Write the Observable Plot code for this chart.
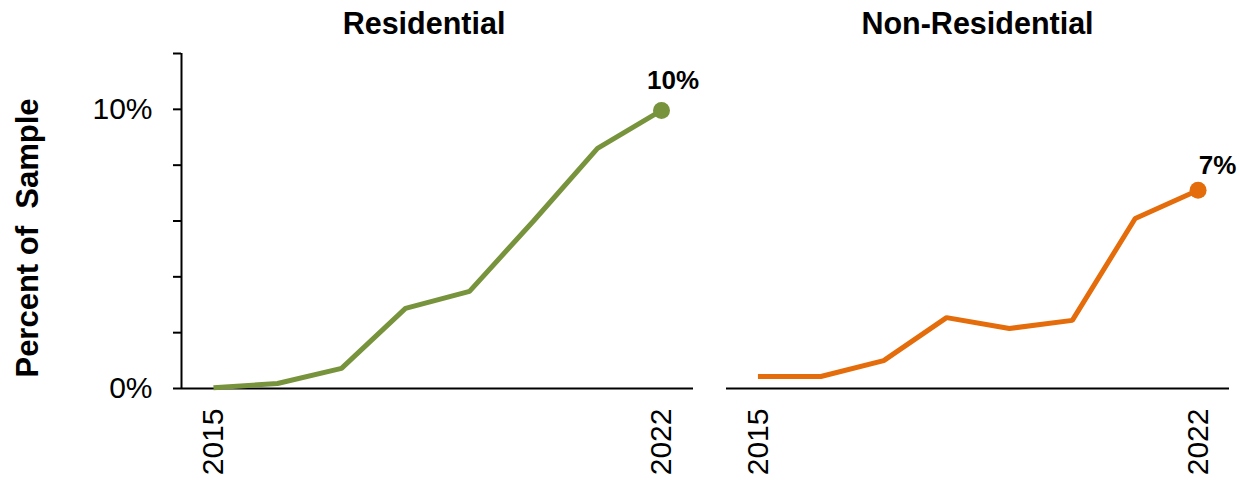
<!DOCTYPE html>
<html>
<head>
<meta charset="utf-8">
<script src="https://cdn.jsdelivr.net/npm/d3@7"></script>
<script src="https://cdn.jsdelivr.net/npm/@observablehq/plot@0.6"></script>
<style>
  html, body { margin: 0; padding: 0; background: #fff; }
  #wrap { position: relative; width: 1240px; height: 480px; overflow: hidden; font-family: "Liberation Sans", Arial, sans-serif; }
  #wrap svg { position: absolute; top: 0; overflow: visible; }
</style>
</head>
<body>
<div id="wrap"></div>
<script>
const years = [2015, 2016, 2017, 2018, 2019, 2020, 2021, 2022];
const residential = [0.03, 0.18, 0.72, 2.87, 3.48, 6.0, 8.6, 9.96];
const nonResidential = [0.43, 0.43, 1.0, 2.54, 2.15, 2.44, 6.09, 7.1];
const panelTitles = ["Residential", "Non-Residential"];
const endLabels = ["10%", "7%"];
const xTickYears = [2015, 2022];
const yTicks = [0, 2, 4, 6, 8, 10, 12];
const yLabeled = [0, 10];
const yLabel = "Percent of  Sample";
const colors = ["#77933C", "#E46C0A"];
const xDomain = [2014.5, 2022.5];
const yDomain = [0, 12];

const font = "Liberation Sans, Arial, sans-serif";
const wrap = document.getElementById("wrap");

function panel({values, color, title, endLabel, width, left, marginLeft, marginRight, withYAxis, titleDx, labelDx, labelDy}) {
  const data = years.map((y, i) => ({year: y, value: values[i]}));
  const last = [data[data.length - 1]];
  const marks = [
    Plot.ruleY([0], {stroke: "#000", strokeWidth: 2}),
    Plot.axisX({
      ticks: xTickYears, tickFormat: d => String(d), tickRotate: -90,
      tickSize: 0, tickPadding: 20, fontSize: 30, fontFamily: font, fill: "#000", label: null
    }),
    Plot.line(data, {x: "year", y: "value", stroke: color, strokeWidth: 5, strokeLinejoin: "miter", strokeLinecap: "butt"}),
    Plot.dot(last, {x: "year", y: "value", r: 8.5, fill: color, stroke: null}),
    Plot.text(last, {x: "year", y: "value", text: () => endLabel, dx: labelDx, dy: labelDy,
      fontSize: 26, fontWeight: "bold", fill: "#000", fontFamily: font, lineAnchor: "middle"}),
    Plot.text([title], {frameAnchor: "top", dx: titleDx, dy: -29.5, lineAnchor: "middle", textAnchor: "middle",
      fontSize: 30.5, fontWeight: "bold", fill: "#000", fontFamily: font})
  ];
  if (withYAxis) {
    marks.unshift(
      Plot.ruleX([xDomain[0]], {y1: yDomain[0], y2: yDomain[1], stroke: "#000", strokeWidth: 2}),
      Plot.axisY({
        ticks: yTicks, tickFormat: d => yLabeled.includes(d) ? d + "%" : "",
        tickSize: 8, tickPadding: 21, fontSize: 30, fontFamily: font, fill: "#000",
        stroke: "#000", strokeWidth: 2, label: null
      }),
      Plot.text([yLabel], {frameAnchor: "left", rotate: -90, dx: -153.6, dy: 17, lineAnchor: "middle", textAnchor: "middle",
        fontSize: 31, fontWeight: "bold", fill: "#000", fontFamily: font})
    );
  }
  const svg = Plot.plot({
    width, height: 480,
    marginLeft, marginRight, marginTop: 53, marginBottom: 92,
    x: {domain: xDomain, axis: null},
    y: {domain: yDomain, axis: null},
    style: {background: "transparent", fontFamily: font, overflow: "visible"},
    marks
  });
  svg.style.left = left + "px";
  wrap.appendChild(svg);
}

panel({values: residential, color: colors[0], title: panelTitles[0], endLabel: endLabels[0],
  width: 700, left: 0, marginLeft: 181, marginRight: 7, withYAxis: true, titleDx: -13.5, labelDx: 11.5, labelDy: -30});
panel({values: nonResidential, color: colors[1], title: panelTitles[1], endLabel: endLabels[1],
  width: 540, left: 700, marginLeft: 26, marginRight: 11, withYAxis: false, titleDx: -0.5, labelDx: 19.5, labelDy: -25});
</script>
</body>
</html>
